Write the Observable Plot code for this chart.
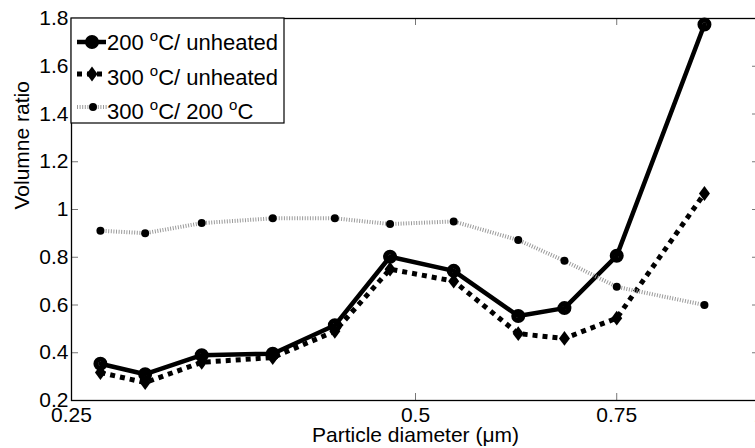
<!DOCTYPE html>
<html><head><meta charset="utf-8">
<script src="https://cdn.jsdelivr.net/npm/d3@7"></script>
<script src="https://cdn.jsdelivr.net/npm/@observablehq/plot@0.6"></script>
<style>
body{margin:0;background:#fff;}
</style></head><body><div id="chart"></div>
<script>
// ---- data ----
const diameters = [0.265, 0.29, 0.325, 0.375, 0.425, 0.475, 0.54, 0.615, 0.675, 0.75, 0.895];
const ratio200Unheated = [0.354, 0.310, 0.390, 0.396, 0.515, 0.802, 0.743, 0.554, 0.587, 0.806, 1.775];
const ratio300Unheated = [0.317, 0.275, 0.360, 0.380, 0.490, 0.750, 0.700, 0.480, 0.460, 0.545, 1.067];
const ratio300To200 = [0.911, 0.901, 0.943, 0.963, 0.963, 0.939, 0.950, 0.872, 0.785, 0.676, 0.600];
const seriesNames = [["200 ", "C/ unheated", null], ["300 ", "C/ unheated", null], ["300 ", "C/ 200 ", "C"]];
const xTicks = [0.25, 0.5, 0.75, 1];
const yTicks = [0.2, 0.4, 0.6, 0.8, 1, 1.2, 1.4, 1.6, 1.8];

const toRows = vals => diameters.map((d, i) => ({x: d, y: vals[i]}));
const s1 = toRows(ratio200Unheated);
const s2 = toRows(ratio300Unheated);
const s3 = toRows(ratio300To200);

const W = 755, H = 448, mL = 71, mR = -4, mT = 18, mB = 48;
const plotW = W - mL - mR, plotH = H - mT - mB;

const tallDiamond = {
  draw(ctx, size) {
    const r = Math.sqrt(size / Math.PI);
    const w = r, h = r * 1.35;
    ctx.moveTo(0, -h); ctx.lineTo(w, 0); ctx.lineTo(0, h); ctx.lineTo(-w, 0); ctx.closePath();
  }
};

const chart = Plot.plot({
  width: W, height: H,
  marginLeft: mL, marginRight: mR, marginTop: mT, marginBottom: mB,
  style: {fontFamily: "'Liberation Sans', Arial, sans-serif", fontSize: "21px", color: "black", background: "white"},
  x: {type: "log", domain: [0.25, 1]},
  y: {domain: [0.2, 1.8]},
  marks: [
    Plot.axisX({ticks: xTicks, tickSize: 0, tickPadding: 7, tickFormat: d => String(d), label: null, fill: "black"}),
    Plot.axisY({ticks: yTicks, tickSize: 0, tickPadding: 3, tickFormat: d => String(d), label: null, fill: "black"}),
    Plot.tickX(xTicks, {x: d => d, stroke: "#777", insetTop: plotH - 7}),
    Plot.tickX(xTicks, {x: d => d, stroke: "#777", insetBottom: plotH - 7}),
    Plot.tickY(yTicks, {y: d => d, stroke: "#777", insetRight: plotW - 7}),
    Plot.tickY(yTicks, {y: d => d, stroke: "#777", insetLeft: plotW - 7}),
    Plot.frame({stroke: "black", strokeWidth: 1.3}),
    Plot.line(s1, {x: "x", y: "y", stroke: "black", strokeWidth: 4.5, strokeLinejoin: "miter"}),
    Plot.dot(s1, {x: "x", y: "y", r: 4.5, stroke: "black", strokeWidth: 5, fill: "none"}),
    Plot.line(s2, {x: "x", y: "y", stroke: "black", strokeWidth: 5, strokeDasharray: "5,5", strokeLinecap: "butt", strokeLinejoin: "miter"}),
    Plot.dot(s2, {x: "x", y: "y", r: 5.5, symbol: tallDiamond, fill: "black", stroke: "none"}),
    Plot.line(s3, {x: "x", y: "y", stroke: "#9a9a9a", strokeWidth: 4, strokeDasharray: "1,1.6", strokeLinecap: "butt"}),
    Plot.dot(s3, {x: "x", y: "y", r: 4, fill: "black", stroke: "none"}),
    Plot.text(["Particle diameter (μm)"], {frameAnchor: "bottom", dy: 41, text: d => d, fontSize: 21, fill: "black"}),
    Plot.text(["Volumne ratio"], {frameAnchor: "left", dx: -49, rotate: -90, text: d => d, fontSize: 21, fill: "black"})
  ]
});
document.getElementById("chart").appendChild(chart);

// ---- legend (MATLAB-style box inside the axes) ----
const svg = d3.select(chart);
const lg = svg.append("g").attr("text-anchor", "start");
lg.append("rect").attr("x", 71).attr("y", 18).attr("width", 213).attr("height", 105)
  .attr("fill", "white").attr("stroke", "black").attr("stroke-width", 1.2);
const rowsY = [42, 74, 107];
const baseY = [50, 84.5, 119];
// row 1
lg.append("line").attr("x1", 77).attr("x2", 106).attr("y1", rowsY[0]).attr("y2", rowsY[0]).attr("stroke", "black").attr("stroke-width", 4.5);
lg.append("circle").attr("cx", 92).attr("cy", rowsY[0]).attr("r", 4.5).attr("stroke", "black").attr("stroke-width", 5).attr("fill", "none");
// row 2
lg.append("line").attr("x1", 77).attr("x2", 107).attr("y1", rowsY[1]).attr("y2", rowsY[1]).attr("stroke", "black").attr("stroke-width", 5).attr("stroke-dasharray", "5,5");
lg.append("path").attr("d", `M92,${rowsY[1]-7.5}L97.5,${rowsY[1]}L92,${rowsY[1]+7.5}L86.5,${rowsY[1]}Z`).attr("fill", "black");
// row 3
lg.append("line").attr("x1", 77).attr("x2", 107).attr("y1", rowsY[2]).attr("y2", rowsY[2]).attr("stroke", "#9a9a9a").attr("stroke-width", 4).attr("stroke-dasharray", "1,1.6");
lg.append("circle").attr("cx", 93).attr("cy", rowsY[2]).attr("r", 4).attr("fill", "black");

seriesNames.forEach((parts, i) => {
  const t = lg.append("text").attr("x", 107).attr("y", baseY[i]).attr("font-size", 22).attr("fill", "black").attr("text-anchor", "start");
  t.append("tspan").text(parts[0]);
  t.append("tspan").attr("font-size", 15).attr("dy", -9).text("o");
  t.append("tspan").attr("dy", 9).text(parts[1]);
  if (parts[2]) {
    t.append("tspan").attr("font-size", 15).attr("dy", -9).text("o");
    t.append("tspan").attr("dy", 9).text(parts[2]);
  }
});
</script></body></html>
